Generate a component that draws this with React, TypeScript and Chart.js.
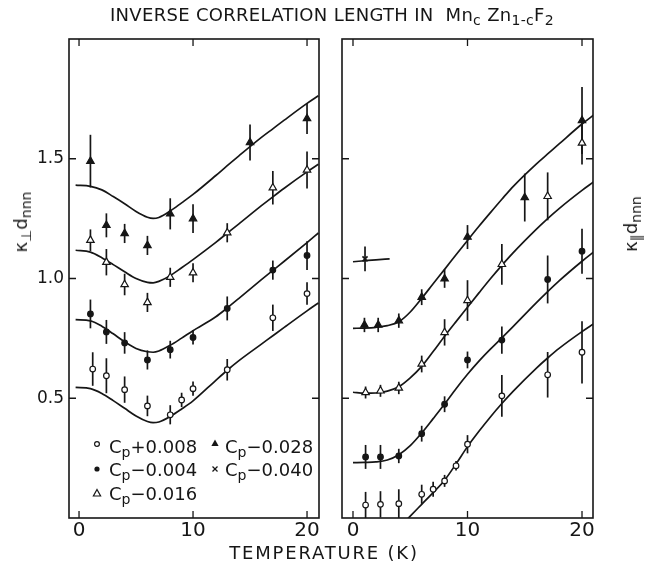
import React, { useEffect, useRef } from "react";
import { Chart, registerables } from "chart.js";

Chart.register(...registerables);

const INK = "#161616";
const FONT = '"DejaVu Sans", "Liberation Sans", sans-serif';

// ---------- axis ticks ----------
const xTickValues = [0, 10, 20];
const yTickValues = [0.5, 1.0, 1.5];
const leftXRange = [-0.88, 21.05];
const rightXRange = [-0.96, 20.96];
const yRange = [0, 2.0];

// ---------- left panel: kappa_perp d_nnn ----------
const perp008T = [1.2, 2.4, 4, 6, 8, 9, 10, 13, 17, 20];
const perp008V = [0.622, 0.594, 0.536, 0.468, 0.431, 0.493, 0.54, 0.619, 0.836, 0.937];
const perp008E = [0.07, 0.073, 0.055, 0.043, 0.04, 0.03, 0.03, 0.045, 0.055, 0.047];

const perp004T = [1, 2.4, 4, 6, 8, 10, 13, 17, 20];
const perp004V = [0.852, 0.777, 0.731, 0.66, 0.703, 0.754, 0.875, 1.035, 1.096];
const perp004E = [0.06, 0.05, 0.045, 0.04, 0.037, 0.03, 0.05, 0.04, 0.06];

const perp016T = [1, 2.4, 4, 6, 8, 10, 13, 17, 20];
const perp016V = [1.16, 1.068, 0.975, 0.9, 1.005, 1.024, 1.191, 1.379, 1.453];
const perp016E = [0.045, 0.055, 0.045, 0.04, 0.04, 0.04, 0.04, 0.07, 0.077];

const perp028T = [1, 2.4, 4, 6, 8, 10, 15, 20];
const perp028V = [1.49, 1.222, 1.188, 1.138, 1.27, 1.25, 1.568, 1.668];
const perp028E = [0.11, 0.05, 0.04, 0.04, 0.065, 0.06, 0.075, 0.065];

// theory curves (left)
const curveLT = [-0.3, 1, 2, 3, 4, 5, 6, 6.5, 7, 8, 9, 10, 12, 13, 14, 16, 17, 18, 20, 21];
const curveL028 = [1.39, 1.385, 1.37, 1.342, 1.312, 1.28, 1.256, 1.251, 1.255, 1.282, 1.316, 1.351, 1.43, 1.471, 1.511, 1.589, 1.625, 1.661, 1.731, 1.763];
const curveL016 = [1.118, 1.11, 1.087, 1.058, 1.028, 1.0, 0.984, 0.982, 0.988, 1.012, 1.045, 1.079, 1.151, 1.189, 1.227, 1.304, 1.341, 1.377, 1.445, 1.477];
const curveL004 = [0.828, 0.823, 0.801, 0.769, 0.736, 0.708, 0.694, 0.692, 0.697, 0.721, 0.751, 0.782, 0.84, 0.877, 0.916, 0.995, 1.034, 1.072, 1.15, 1.19];
const curveL008 = [0.545, 0.54, 0.52, 0.49, 0.458, 0.426, 0.403, 0.398, 0.401, 0.424, 0.455, 0.489, 0.575, 0.617, 0.656, 0.726, 0.761, 0.796, 0.865, 0.898];

// ---------- right panel: kappa_parallel d_nnn ----------
const par008T = [1.1, 2.4, 4, 6, 7, 8, 9, 10, 13, 17, 20];
const par008V = [0.054, 0.057, 0.06, 0.099, 0.12, 0.155, 0.218, 0.308, 0.51, 0.598, 0.692];
const par008E = [0.055, 0.055, 0.06, 0.04, 0.031, 0.025, 0.02, 0.038, 0.087, 0.095, 0.13];

const par004T = [1.1, 2.4, 4, 6, 8, 10, 13, 17, 20];
const par004V = [0.255, 0.255, 0.259, 0.352, 0.475, 0.66, 0.743, 0.996, 1.114];
const par004E = [0.05, 0.05, 0.03, 0.033, 0.033, 0.035, 0.057, 0.1, 0.094];

const par016T = [1.1, 2.4, 4, 6, 8, 10, 13, 17, 20];
const par016V = [0.524, 0.531, 0.543, 0.643, 0.775, 0.908, 1.059, 1.343, 1.566];
const par016E = [0.025, 0.025, 0.026, 0.035, 0.055, 0.085, 0.085, 0.1, 0.09];

const par028T = [1, 2.2, 4, 6, 8, 10, 15, 20];
const par028V = [0.806, 0.806, 0.824, 0.922, 0.999, 1.173, 1.338, 1.66];
const par028E = [0.03, 0.03, 0.03, 0.033, 0.038, 0.05, 0.1, 0.14];

const par040T = [1.05];
const par040V = [1.082];
const par040E = [0.052];

// theory curves (right)
const curveRT = [0, 1, 2, 3, 4, 5, 6, 7, 8, 9, 10, 11, 12, 13, 14, 16, 17, 18, 20, 21];
const curveR028 = [0.792, 0.793, 0.796, 0.803, 0.819, 0.86, 0.917, 0.978, 1.038, 1.099, 1.159, 1.218, 1.275, 1.331, 1.385, 1.478, 1.52, 1.562, 1.645, 1.682];
const curveR016 = [0.525, 0.521, 0.522, 0.53, 0.548, 0.585, 0.633, 0.695, 0.759, 0.82, 0.88, 0.94, 0.999, 1.055, 1.108, 1.205, 1.25, 1.292, 1.368, 1.403];
const curveR004 = [0.231, 0.232, 0.234, 0.242, 0.264, 0.302, 0.355, 0.415, 0.476, 0.54, 0.6, 0.655, 0.705, 0.752, 0.8, 0.898, 0.945, 0.99, 1.072, 1.11];
const curveR008T = [4.6, 5, 6, 7, 8, 9, 10, 11, 12, 13, 14, 16, 17, 18, 20, 21];
const curveR008 = [-0.012, 0.008, 0.057, 0.106, 0.158, 0.226, 0.298, 0.362, 0.422, 0.478, 0.53, 0.625, 0.668, 0.708, 0.778, 0.81];
const curveR040T = [0, 1, 2, 3.2];
const curveR040 = [1.07, 1.074, 1.078, 1.082];

// ---------- helpers ----------
const pts = (t: number[], v: number[]) => t.map((x, i) => ({ x, y: v[i] }));

type Kind = "openCircle" | "filledCircle" | "openTri" | "filledTri" | "cross";

function markerDataset(label: string, t: number[], v: number[], e: number[], kind: Kind) {
  const base: any = {
    label,
    data: pts(t, v),
    errors: e,
    showLine: false,
    borderColor: INK,
    borderWidth: 1.2,
    order: 0,
  };
  if (kind === "openCircle") Object.assign(base, { pointStyle: "circle", pointRadius: 2.8, backgroundColor: "#fff" });
  if (kind === "filledCircle") Object.assign(base, { pointStyle: "circle", pointRadius: 2.8, backgroundColor: INK });
  if (kind === "openTri") Object.assign(base, { pointStyle: "triangle", pointRadius: 4.3, backgroundColor: "#fff" });
  if (kind === "filledTri") Object.assign(base, { pointStyle: "triangle", pointRadius: 4.3, backgroundColor: INK });
  if (kind === "cross") Object.assign(base, { pointStyle: "crossRot", pointRadius: 3.6, borderWidth: 1.6, backgroundColor: INK });
  return base;
}

function curveDataset(label: string, t: number[], v: number[]) {
  return {
    label,
    data: pts(t, v),
    showLine: true,
    pointRadius: 0,
    borderColor: INK,
    borderWidth: 1.7,
    cubicInterpolationMode: "monotone",
    fill: false,
    order: 1,
  } as any;
}

const errorBarPlugin = {
  id: "errorBars",
  beforeDatasetsDraw(chart: any) {
    const { ctx, chartArea: a, scales } = chart;
    const x = scales.x;
    const y = scales.y;
    ctx.save();
    ctx.beginPath();
    ctx.rect(a.left, a.top, a.right - a.left, a.bottom - a.top);
    ctx.clip();
    ctx.strokeStyle = INK;
    ctx.lineWidth = 1.7;
    chart.data.datasets.forEach((ds: any) => {
      if (!ds.errors) return;
      ds.data.forEach((p: any, i: number) => {
        const e = ds.errors[i];
        const px = x.getPixelForValue(p.x);
        ctx.beginPath();
        ctx.moveTo(px, y.getPixelForValue(p.y - e));
        ctx.lineTo(px, y.getPixelForValue(p.y + e));
        ctx.stroke();
      });
    });
    ctx.restore();
  },
};

const framePlugin = {
  id: "frame",
  afterDraw(chart: any) {
    const { ctx, chartArea: a, scales } = chart;
    const L = 7;
    ctx.save();
    ctx.strokeStyle = INK;
    ctx.lineWidth = 1.6;
    ctx.strokeRect(a.left, a.top, a.right - a.left, a.bottom - a.top);
    ctx.lineWidth = 1.3;
    ctx.beginPath();
    xTickValues.forEach((v) => {
      const px = scales.x.getPixelForValue(v);
      ctx.moveTo(px, a.top);
      ctx.lineTo(px, a.top + L);
      ctx.moveTo(px, a.bottom);
      ctx.lineTo(px, a.bottom - L);
    });
    yTickValues.forEach((v) => {
      const py = scales.y.getPixelForValue(v);
      ctx.moveTo(a.left, py);
      ctx.lineTo(a.left + L, py);
      ctx.moveTo(a.right, py);
      ctx.lineTo(a.right - L, py);
    });
    ctx.stroke();
    ctx.restore();
  },
};

function panelConfig(isLeft: boolean): any {
  const datasets = isLeft
    ? [
        markerDataset("Cp+0.008", perp008T, perp008V, perp008E, "openCircle"),
        markerDataset("Cp-0.004", perp004T, perp004V, perp004E, "filledCircle"),
        markerDataset("Cp-0.016", perp016T, perp016V, perp016E, "openTri"),
        markerDataset("Cp-0.028", perp028T, perp028V, perp028E, "filledTri"),
        curveDataset("theory Cp+0.008", curveLT, curveL008),
        curveDataset("theory Cp-0.004", curveLT, curveL004),
        curveDataset("theory Cp-0.016", curveLT, curveL016),
        curveDataset("theory Cp-0.028", curveLT, curveL028),
      ]
    : [
        markerDataset("Cp+0.008", par008T, par008V, par008E, "openCircle"),
        markerDataset("Cp-0.004", par004T, par004V, par004E, "filledCircle"),
        markerDataset("Cp-0.016", par016T, par016V, par016E, "openTri"),
        markerDataset("Cp-0.028", par028T, par028V, par028E, "filledTri"),
        markerDataset("Cp-0.040", par040T, par040V, par040E, "cross"),
        curveDataset("theory Cp+0.008", curveR008T, curveR008),
        curveDataset("theory Cp-0.004", curveRT, curveR004),
        curveDataset("theory Cp-0.016", curveRT, curveR016),
        curveDataset("theory Cp-0.028", curveRT, curveR028),
        curveDataset("theory Cp-0.040", curveR040T, curveR040),
      ];
  const xr = isLeft ? leftXRange : rightXRange;
  return {
    type: "scatter",
    data: { datasets },
    options: {
      animation: false,
      responsive: false,
      events: [],
      layout: { padding: isLeft ? { top: 39, right: 11, left: 0, bottom: 0 } : { top: 39, right: 54, left: 0, bottom: 0 } },
      plugins: { legend: { display: false }, tooltip: { enabled: false }, title: { display: false } },
      scales: {
        x: {
          type: "linear",
          min: xr[0],
          max: xr[1],
          afterBuildTicks: (s: any) => {
            s.ticks = xTickValues.map((value) => ({ value }));
          },
          afterFit: (s: any) => {
            s.height = 48;
          },
          grid: { display: false, drawTicks: false },
          border: { display: false },
          ticks: {
            font: { family: FONT, size: 20 },
            color: INK,
            padding: 1,
            maxRotation: 0,
            autoSkip: false,
            callback: (v: any) => String(v),
          },
        },
        y: {
          type: "linear",
          min: yRange[0],
          max: yRange[1],
          afterBuildTicks: (s: any) => {
            s.ticks = yTickValues.map((value) => ({ value }));
          },
          afterFit: (s: any) => {
            s.width = isLeft ? 69 : 12;
          },
          grid: { display: false, drawTicks: false },
          border: { display: false },
          ticks: {
            display: isLeft,
            font: { family: FONT, size: 17 },
            color: INK,
            padding: 5,
            autoSkip: false,
            callback: (v: any) => Number(v).toFixed(1),
          },
        },
      },
    },
    plugins: [errorBarPlugin, framePlugin],
  };
}

function Marker({ kind }: { kind: Kind }) {
  const s = 10;
  let shape: any = null;
  if (kind === "openCircle") shape = <circle cx={5} cy={5} r={2.4} fill="#fff" stroke={INK} strokeWidth={1.2} />;
  if (kind === "filledCircle") shape = <circle cx={5} cy={5} r={2.6} fill={INK} />;
  if (kind === "openTri") shape = <polygon points="5,1.5 8.6,8 1.4,8" fill="#fff" stroke={INK} strokeWidth={1.2} />;
  if (kind === "filledTri") shape = <polygon points="5,1.5 8.6,8 1.4,8" fill={INK} />;
  if (kind === "cross")
    shape = (
      <g stroke={INK} strokeWidth={1.3}>
        <line x1={2.5} y1={2.5} x2={7.5} y2={7.5} />
        <line x1={7.5} y1={2.5} x2={2.5} y2={7.5} />
      </g>
    );
  return (
    <svg width={s} height={s} style={{ display: "block" }}>
      {shape}
    </svg>
  );
}

const legendRows: { kind: Kind; label: string; mx: number; tx: number; cy: number; base: number }[] = [
  { kind: "openCircle", label: "+0.008", mx: 97, tx: 109, cy: 444, base: 453 },
  { kind: "filledTri", label: "\u22120.028", mx: 215, tx: 225, cy: 443, base: 453 },
  { kind: "filledCircle", label: "\u22120.004", mx: 97, tx: 109, cy: 469, base: 476 },
  { kind: "cross", label: "\u22120.040", mx: 215, tx: 225, cy: 469, base: 476 },
  { kind: "openTri", label: "\u22120.016", mx: 97, tx: 109, cy: 493, base: 500 },
];

const subStyle: React.CSSProperties = { fontSize: "0.78em", verticalAlign: "-0.3em", lineHeight: 0 };

export default function App() {
  const leftRef = useRef<HTMLCanvasElement>(null);
  const rightRef = useRef<HTMLCanvasElement>(null);

  useEffect(() => {
    const c1 = new Chart(leftRef.current as HTMLCanvasElement, panelConfig(true));
    const c2 = new Chart(rightRef.current as HTMLCanvasElement, panelConfig(false));
    return () => {
      c1.destroy();
      c2.destroy();
    };
  }, []);

  const text: React.CSSProperties = { position: "absolute", fontFamily: FONT, color: INK, whiteSpace: "nowrap", lineHeight: "18px" };

  return (
    <div style={{ position: "absolute", left: 0, top: 0, width: 647, height: 566, background: "#fff", overflow: "hidden" }}>
      <canvas ref={leftRef} width={330} height={566} style={{ position: "absolute", left: 0, top: 0, width: 330, height: 566 }} />
      <canvas ref={rightRef} width={317} height={566} style={{ position: "absolute", left: 330, top: 0, width: 317, height: 566 }} />

      <div style={{ ...text, left: 332, top: 6, transform: "translateX(-50%)", fontSize: 18, letterSpacing: 0.3 }}>
        INVERSE CORRELATION LENGTH IN&nbsp;&nbsp;Mn<span style={subStyle}>c</span> Zn<span style={subStyle}>1-c</span>F<span style={subStyle}>2</span>
      </div>

      <div style={{ ...text, left: 324, top: 544, transform: "translateX(-50%)", fontSize: 18, letterSpacing: 1.8 }}>
        TEMPERATURE (K)
      </div>

      <div style={{ ...text, left: 21, top: 222, transform: "translate(-50%, -50%) rotate(-90deg)", fontSize: 18 }}>
        κ<span style={subStyle}>⊥</span>d<span style={subStyle}>nnn</span>
      </div>
      <div style={{ ...text, left: 631, top: 224, transform: "translate(-50%, -50%) rotate(-90deg)", fontSize: 18 }}>
        κ<span style={subStyle}>∥</span>d<span style={subStyle}>nnn</span>
      </div>

      {legendRows.map((r, i) => (
        <React.Fragment key={i}>
          <div style={{ position: "absolute", left: r.mx - 5, top: r.cy - 5 }}>
            <Marker kind={r.kind} />
          </div>
          <div style={{ ...text, left: r.tx, top: r.base - 15, fontSize: 18 }}>
            C<span style={subStyle}>p</span>
            {r.label}
          </div>
        </React.Fragment>
      ))}
    </div>
  );
}
